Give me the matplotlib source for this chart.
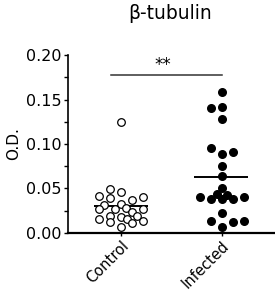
import numpy as np
import matplotlib
matplotlib.use("Agg")
import matplotlib.pyplot as plt

plt.rcParams['font.family'] = ['DejaVu Sans']

groups = ['Control', 'Infected']
control = [0.1247, 0.0491, 0.0464, 0.0419, 0.0397, 0.0371, 0.0401, 0.0311, 0.0326,
           0.0266, 0.0266, 0.0277, 0.0270, 0.0232, 0.0195, 0.0183, 0.0191, 0.0154,
           0.0127, 0.0157, 0.0135, 0.0064, 0.0109]
control_dx = [0.0, -0.11, 0.0, -0.22, -0.11, 0.11, 0.22, -0.17, 0.0,
              -0.22, -0.06, 0.05, 0.22, 0.11, -0.11, 0.0, 0.16, -0.22,
              -0.11, 0.06, 0.22, 0.0, 0.11]
infected = [0.158, 0.140, 0.142, 0.128, 0.0952, 0.0888, 0.0914, 0.0756, 0.0640,
            0.0502, 0.0408, 0.0382, 0.0435, 0.0379, 0.0427, 0.0379, 0.0408,
            0.0221, 0.0135, 0.0071, 0.0120, 0.0138]
infected_dx = [0.0, -0.11, 0.0, 0.0, -0.11, 0.0, 0.11, 0.0, 0.0,
               0.0, -0.22, -0.11, -0.05, 0.0, 0.05, 0.11, 0.22,
               0.0, -0.11, 0.0, 0.11, 0.22]

fig = plt.figure(figsize=(2.75, 2.93), dpi=100)
ax = fig.add_axes([0.247, 0.205, 0.75, 0.607])

ax.scatter(1 + np.array(control_dx), control, s=30, facecolors='white',
           edgecolors='black', linewidths=0.9, zorder=3)
ax.scatter(2 + np.array(infected_dx), infected, s=30, color='black', zorder=3)

# mean lines
ax.hlines(np.mean(control), 0.73, 1.27, color='black', lw=1.4, zorder=2)
ax.hlines(np.mean(infected), 1.72, 2.26, color='black', lw=1.4, zorder=2)

# significance bar
ax.plot([0.9, 2.0], [0.1775, 0.1775], color='#333333', lw=1.1)
ax.text(1.42, 0.1785, '**', ha='center', va='bottom', fontsize=12)

ax.set_xlim(0.474, 2.52)
ax.set_ylim(0, 0.2)
ax.set_yticks([0, 0.05, 0.10, 0.15, 0.20])
ax.set_yticklabels(['0.00', '0.05', '0.10', '0.15', '0.20'], fontsize=11.5)
ax.set_yticks([0.025, 0.075, 0.125, 0.175], minor=True)
ax.set_xticks([1, 2])
ax.set_xticklabels(groups, rotation=45, ha='right', va='top',
                   rotation_mode='anchor', fontsize=10.5)
ax.tick_params(axis='y', which='both', length=3, width=1, pad=1.5)
ax.tick_params(axis='x', length=2, width=1, pad=2)
ax.spines['top'].set_visible(False)
ax.spines['right'].set_visible(False)
ax.spines['left'].set_linewidth(1.2)
ax.spines['bottom'].set_linewidth(1.6)
ax.set_ylabel('O.D.', fontsize=11)
ax.yaxis.set_label_coords(-0.228, 0.5)
fig.text(0.618, 0.955, 'β-tubulin', ha='center', va='center', fontsize=13.5)

fig.savefig('out.png', dpi=100)
